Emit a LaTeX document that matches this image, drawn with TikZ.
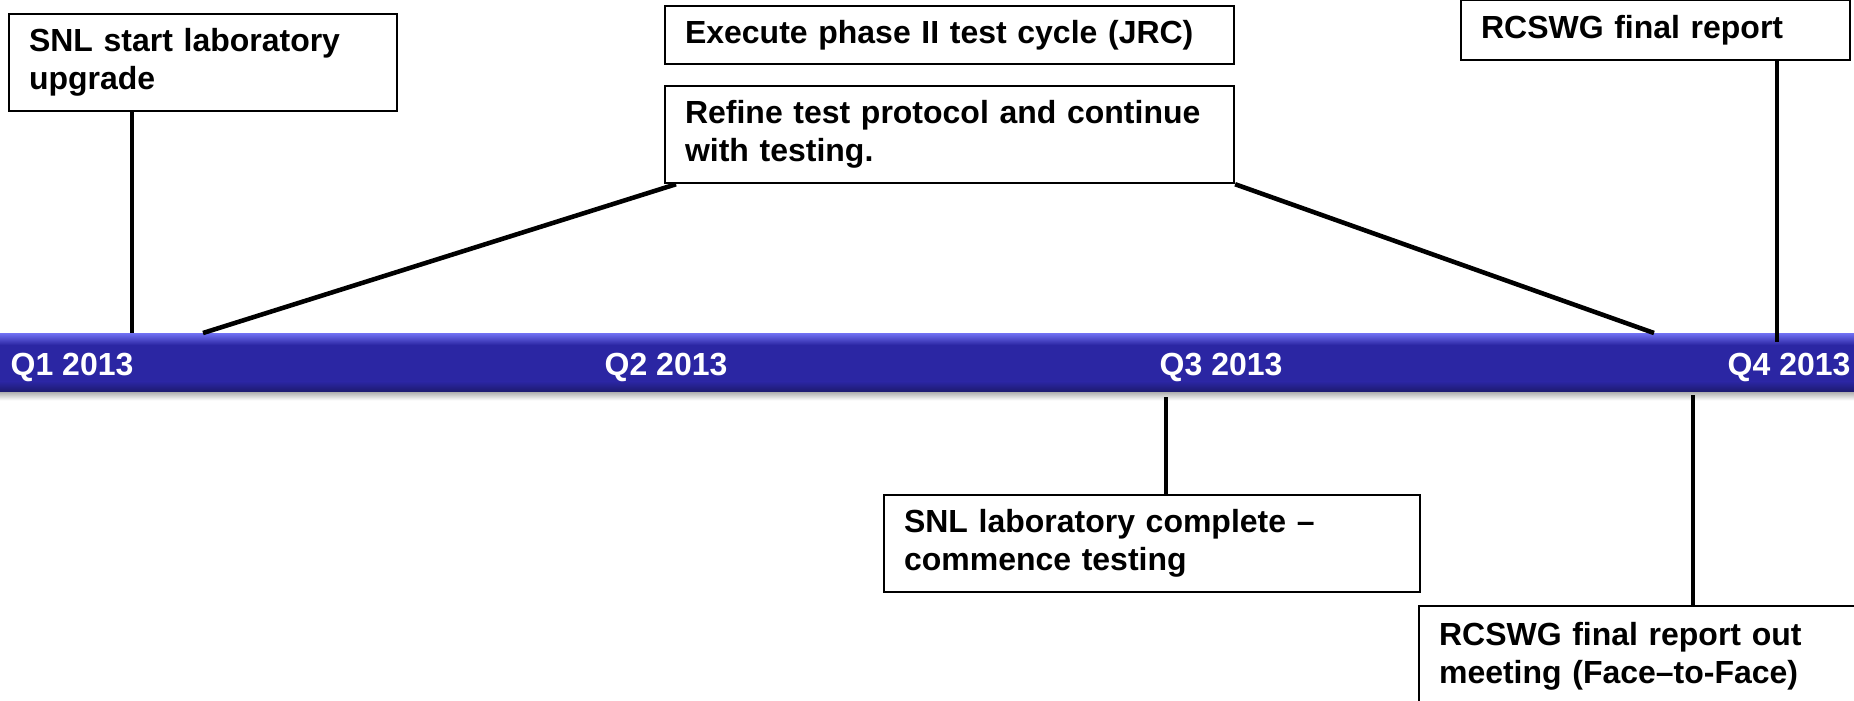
\documentclass[tikz,border=0pt]{standalone}
\usepackage{fontspec}
\setmainfont{Liberation Sans}
\usepackage{tikz}
\usetikzlibrary{positioning,calc}
\definecolor{barbody}{HTML}{2B26A3}
\definecolor{barlight}{HTML}{7272F4}
\definecolor{bardark}{HTML}{1C196B}

\begin{document}
\begin{tikzpicture}[
      every node/.style={font=\fontsize{9.1}{10.8}\selectfont\bfseries},
      box/.style={draw, line width=0.6pt, fill=white, anchor=north west,
                  align=left, inner xsep=0.2cm, inner ysep=0pt},
      qlab/.style={text=white, anchor=base west, inner sep=0pt},
      link/.style={line width=1.3pt}
  ]
    \useasboundingbox (0,0) rectangle (18.54,7.00);

    % --- Timeline bar ---
    \node[fill=barbody, inner sep=0pt, anchor=north west,
          minimum width=18.62cm, minimum height=0.58cm] (bar) at (-0.04,3.67) {};
    \shade[top color=barlight, bottom color=barbody]
          (bar.north west) rectangle ($(bar.north east)+(0,-0.12)$);
    \shade[top color=barbody, bottom color=bardark]
          ($(bar.south west)+(0,0.11)$) rectangle (bar.south east);
    \shade[top color=gray!60, bottom color=white]
          (bar.south west) rectangle ($(bar.south east)+(0,-0.08)$);

    \node[qlab] (q1) at (0.10,3.25) {Q1 2013};
    \node[qlab] (q2) at (6.04,3.25) {Q2 2013};
    \node[qlab] (q3) at (11.59,3.25) {Q3 2013};
    \node[qlab] (q4) at (17.27,3.25) {Q4 2013};

    % --- Events above the bar ---
    \node[box, text width=3.48cm, minimum height=0.97cm] (upgrade) at (0.08,6.87)
          {SNL start laboratory\\upgrade};
    \node[box, text width=5.29cm, minimum height=0.58cm] (phase) at (6.64,6.95)
          {Execute phase II test cycle (JRC)};
    \node[box, text width=5.29cm, minimum height=0.97cm,
          below=0.2cm of phase.south west, anchor=north west] (refine)
          {Refine test protocol and continue\\with testing.};
    \node[box, text width=3.49cm, minimum height=0.60cm] (report) at (14.60,7.01)
          {RCSWG final report};

    \coordinate (t1) at (1.32,3.67);
    \coordinate (t2) at (2.03,3.67);
    \coordinate (t3) at (16.54,3.67);
    \coordinate (t4) at (17.77,3.58);
    \draw[link] (upgrade.south -| t1) -- (t1);
    \draw[link] (t2) -- ($(refine.south west)+(0.12,0)$);
    \draw[link] (refine.south east) -- (t3);
    \draw[link] (report.south -| t4) -- (t4);

    % --- Events below the bar ---
    \node[box, text width=4.96cm, minimum height=0.97cm] (labdone) at (8.83,2.06)
          {SNL laboratory complete –\\commence testing};
    \node[box, text width=4.10cm, minimum height=1.00cm] (meeting) at (14.18,0.95)
          {RCSWG final report out\\meeting (Face–to-Face)};

    \coordinate (b1) at (11.66,3.03);
    \coordinate (b2) at (16.93,3.05);
    \draw[link] (b1) -- (b1 |- labdone.north);
    \draw[link] (b2) -- (b2 |- meeting.north);

\end{tikzpicture}
\end{document}
